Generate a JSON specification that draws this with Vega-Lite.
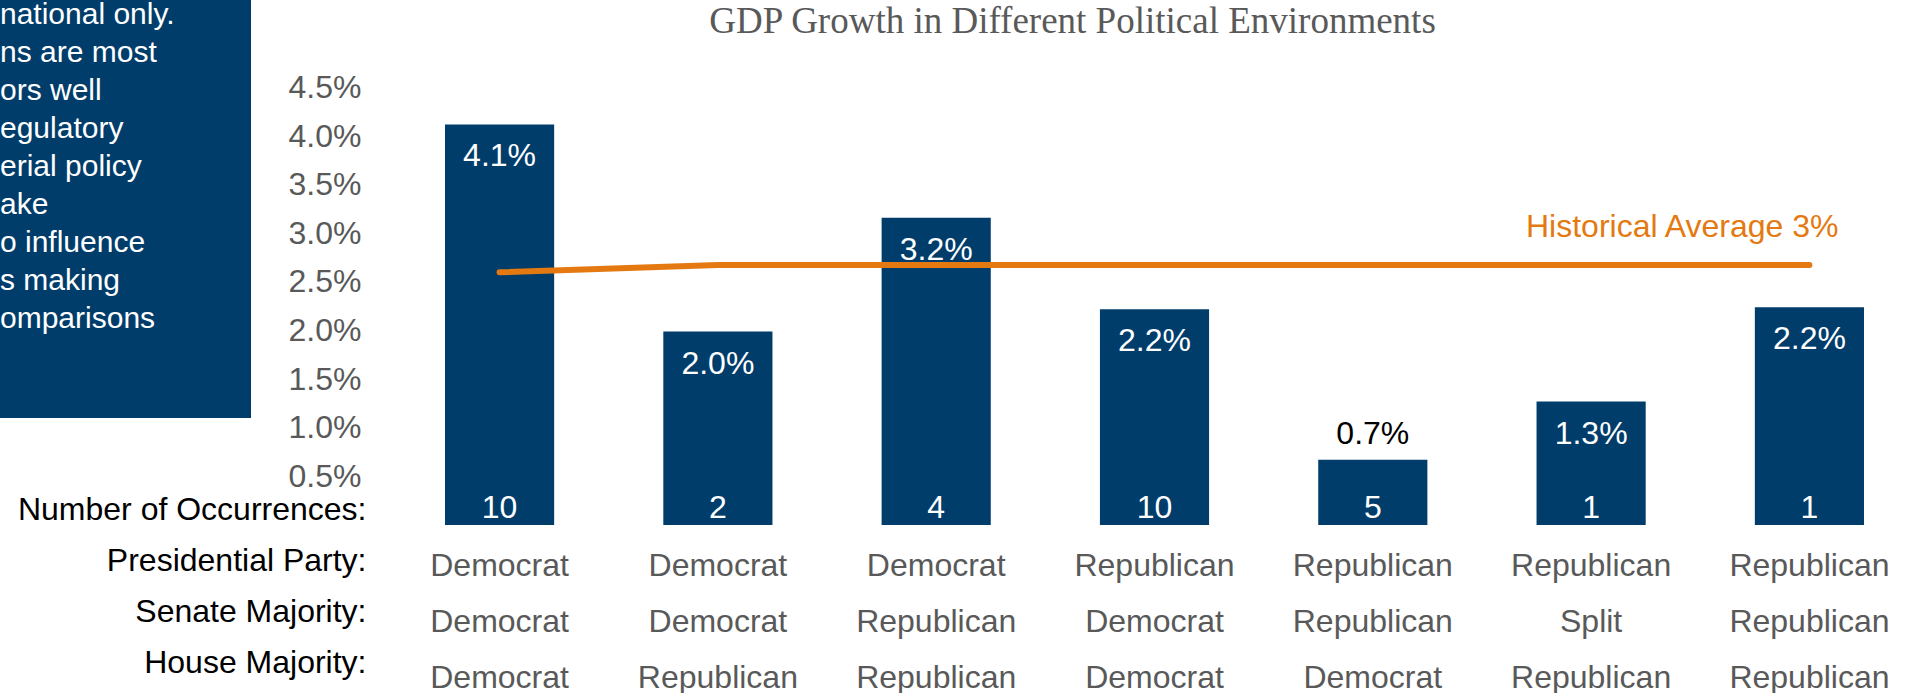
{
  "$schema": "https://vega.github.io/schema/vega-lite/v6.json",
  "background": "white",
  "padding": 0,
  "bounds": "flush",
  "spacing": 194,
  "config": {"view": {"stroke": null}, "font": "Liberation Sans"},
  "datasets": {
    "environments": [
      {"env": "Democrat|Democrat|Democrat", "president": "Democrat", "senate": "Democrat", "house": "Democrat", "occurrences": 10, "growth": 0.0412, "historical": 0.0260},
      {"env": "Democrat|Democrat|Republican", "president": "Democrat", "senate": "Democrat", "house": "Republican", "occurrences": 2, "growth": 0.0199, "historical": 0.02674},
      {"env": "Democrat|Republican|Republican", "president": "Democrat", "senate": "Republican", "house": "Republican", "occurrences": 4, "growth": 0.0316, "historical": 0.02674},
      {"env": "Republican|Democrat|Democrat", "president": "Republican", "senate": "Democrat", "house": "Democrat", "occurrences": 10, "growth": 0.0222, "historical": 0.02674},
      {"env": "Republican|Republican|Democrat", "president": "Republican", "senate": "Republican", "house": "Democrat", "occurrences": 5, "growth": 0.0067, "historical": 0.02674},
      {"env": "Republican|Split|Republican", "president": "Republican", "senate": "Split", "house": "Republican", "occurrences": 1, "growth": 0.0127, "historical": 0.02674},
      {"env": "Republican|Republican|Republican", "president": "Republican", "senate": "Republican", "house": "Republican", "occurrences": 1, "growth": 0.0224, "historical": 0.02674}
    ],
    "note": [
      {"lines": ["national only.", "ns are most", "ors well", "egulatory", "erial policy", "ake", "o influence", "s making", "omparisons"]}
    ]
  },
  "hconcat": [
    {
      "width": 251,
      "height": 418,
      "view": {"fill": "#003D6B", "stroke": null},
      "data": {"name": "note"},
      "mark": {"type": "text", "align": "left", "baseline": "top", "fontSize": 30, "lineHeight": 38, "color": "#FFFFFF", "font": "Liberation Sans"},
      "encoding": {
        "x": {"datum": 0, "type": "quantitative", "scale": {"domain": [0, 1]}, "axis": null},
        "y": {"datum": 1, "type": "quantitative", "scale": {"domain": [0, 1]}, "axis": null},
        "text": {"field": "lines"}
      }
    },
    {
      "width": 1419,
      "height": 525,
      "view": {"stroke": null},
      "title": {"text": "GDP Growth in Different Political Environments", "font": "Liberation Serif", "fontSize": 37, "fontWeight": "normal", "color": "#595959", "anchor": "middle", "dx": -82, "offset": -41},
      "data": {"name": "environments"},
      "encoding": {
        "x": {
          "field": "env", "type": "nominal", "sort": null,
          "scale": {"paddingInner": 0.5, "paddingOuter": 0},
          "axis": {
            "title": ["Number of Occurrences:", "Presidential Party:", "Senate Majority:", "House Majority:"],
            "titleFont": "Liberation Sans", "titleFontSize": 32, "titleFontWeight": "normal", "titleColor": "#000000",
            "titleAlign": "right", "titleBaseline": "top", "titleLineHeight": 51, "titleX": -79, "titleY": -31, "titleAngle": 0,
            "labelExpr": "split(datum.label, '|')",
            "labelFont": "Liberation Sans", "labelFontSize": 32, "labelColor": "#595959", "labelLineHeight": 56,
            "labelPadding": 25, "labelBaseline": "top", "labelAngle": 0, "labelLimit": 0, "labelOverlap": false,
            "domain": false, "ticks": false, "tickSize": 0, "grid": false
          }
        }
      },
      "layer": [
        {
          "mark": {"type": "bar", "color": "#003D6B"},
          "encoding": {
            "y": {
              "field": "growth", "type": "quantitative",
              "scale": {"domain": [0, 0.054], "nice": false},
              "axis": {
                "title": null, "values": [0.005, 0.01, 0.015, 0.02, 0.025, 0.03, 0.035, 0.04, 0.045], "format": ".1%",
                "labelFont": "Liberation Sans", "labelFontSize": 32, "labelColor": "#595959", "labelPadding": 84,
                "domain": false, "ticks": false, "tickSize": 0, "grid": false
              }
            }
          }
        },
        {
          "mark": {"type": "line", "color": "#E47911", "strokeWidth": 6, "strokeCap": "round"},
          "encoding": {"y": {"field": "historical", "type": "quantitative"}}
        },
        {
          "transform": [{"filter": "datum.growth >= 0.01"}],
          "mark": {"type": "text", "color": "#FFFFFF", "fontSize": 32, "baseline": "middle", "dy": 32},
          "encoding": {
            "y": {"field": "growth", "type": "quantitative"},
            "text": {"field": "growth", "type": "quantitative", "format": ".1%"}
          }
        },
        {
          "transform": [{"filter": "datum.growth < 0.01"}],
          "mark": {"type": "text", "color": "#000000", "fontSize": 32, "baseline": "middle", "dy": -26},
          "encoding": {
            "y": {"field": "growth", "type": "quantitative"},
            "text": {"field": "growth", "type": "quantitative", "format": ".1%"}
          }
        },
        {
          "mark": {"type": "text", "color": "#FFFFFF", "fontSize": 32, "baseline": "middle", "dy": -17},
          "encoding": {
            "y": {"datum": 0, "type": "quantitative"},
            "text": {"field": "occurrences", "type": "quantitative"}
          }
        },
        {
          "transform": [{"filter": "datum.env == 'Republican|Republican|Republican'"}],
          "mark": {"type": "text", "color": "#E47911", "fontSize": 32, "baseline": "middle", "align": "right", "dx": 29, "dy": -38, "text": "Historical Average 3%"},
          "encoding": {
            "y": {"field": "historical", "type": "quantitative"}
          }
        }
      ]
    }
  ]
}
